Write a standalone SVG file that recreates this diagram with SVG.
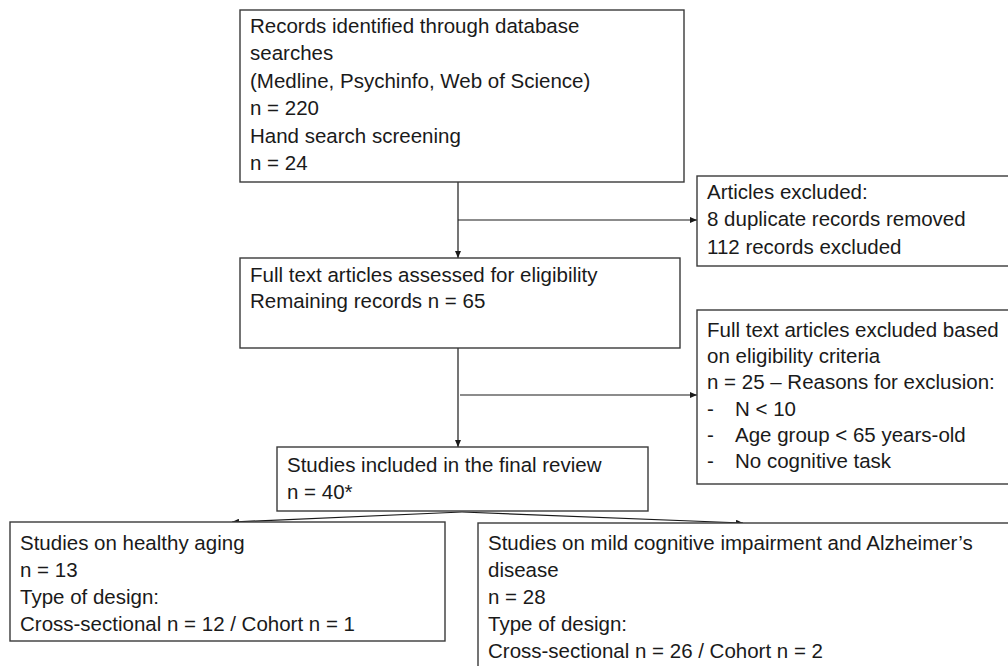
<svg xmlns="http://www.w3.org/2000/svg" width="1008" height="666" viewBox="0 0 1008 666">
<defs>
<style>
.box{fill:#fff;stroke:#3a3a3a;stroke-width:1.4}
.t{font-family:"Liberation Sans",Arial,sans-serif;font-size:20.5px;fill:#1a1a1a}
.c{fill:none;stroke:#1a1a1a;stroke-width:1.2}
</style>
<marker id="ah" viewBox="0 0 7 6" refX="7" refY="3" markerWidth="7" markerHeight="6" markerUnits="userSpaceOnUse" orient="auto">
<path d="M0,0 L7,3 L0,6 Z" fill="#1a1a1a"/>
</marker>
</defs>
<rect width="1008" height="666" fill="#fff"/>
<g id="connectors">
<line class="c" x1="458" y1="182" x2="458" y2="258" marker-end="url(#ah)"/>
<line class="c" x1="458" y1="220" x2="697" y2="220" marker-end="url(#ah)"/>
<line class="c" x1="458" y1="348" x2="458" y2="447" marker-end="url(#ah)"/>
<line class="c" x1="460" y1="395" x2="697" y2="395" marker-end="url(#ah)"/>
<line class="c" x1="462" y1="512" x2="232" y2="522" marker-end="url(#ah)"/>
<line class="c" x1="462" y1="512" x2="743" y2="523" marker-end="url(#ah)"/>
</g>
<g id="n1">
<rect class="box" x="240" y="10" width="444" height="172"/>
<text class="t" x="250" y="33">Records identified through database</text>
<text class="t" x="250" y="60">searches</text>
<text class="t" x="250" y="88">(Medline, Psychinfo, Web of Science)</text>
<text class="t" x="250" y="115">n = 220</text>
<text class="t" x="250" y="143">Hand search screening</text>
<text class="t" x="250" y="170">n = 24</text>
</g>
<g id="n2">
<rect class="box" x="697" y="176" width="316" height="90"/>
<text class="t" x="707" y="199">Articles excluded:</text>
<text class="t" x="707" y="226">8 duplicate records removed</text>
<text class="t" x="707" y="254">112 records excluded</text>
</g>
<g id="n3">
<rect class="box" x="240" y="258" width="440" height="90"/>
<text class="t" x="250" y="282">Full text articles assessed for eligibility</text>
<text class="t" x="250" y="308">Remaining records n = 65</text>
</g>
<g id="n4">
<rect class="box" x="697" y="310" width="316" height="174"/>
<text class="t" x="707" y="337">Full text articles excluded based</text>
<text class="t" x="707" y="363">on eligibility criteria</text>
<text class="t" x="707" y="389">n = 25 – Reasons for exclusion:</text>
<text class="t" x="707" y="416">-</text><text class="t" x="735" y="416">N &lt; 10</text>
<text class="t" x="707" y="442">-</text><text class="t" x="735" y="442">Age group &lt; 65 years-old</text>
<text class="t" x="707" y="468">-</text><text class="t" x="735" y="468">No cognitive task</text>
</g>
<g id="n5">
<rect class="box" x="277" y="447" width="371" height="64"/>
<text class="t" x="287" y="472">Studies included in the final review</text>
<text class="t" x="287" y="499">n = 40*</text>
</g>
<g id="n6">
<rect class="box" x="10" y="522" width="435" height="119"/>
<text class="t" x="20" y="550">Studies on healthy aging</text>
<text class="t" x="20" y="577">n = 13</text>
<text class="t" x="20" y="604">Type of design:</text>
<text class="t" x="20" y="631">Cross-sectional n = 12 / Cohort n = 1</text>
</g>
<g id="n7">
<rect class="box" x="478" y="523" width="535" height="160"/>
<text class="t" x="488" y="550">Studies on mild cognitive impairment and Alzheimer’s</text>
<text class="t" x="488" y="577">disease</text>
<text class="t" x="488" y="604">n = 28</text>
<text class="t" x="488" y="631">Type of design:</text>
<text class="t" x="488" y="658">Cross-sectional n = 26 / Cohort n = 2</text>
</g>
</svg>
